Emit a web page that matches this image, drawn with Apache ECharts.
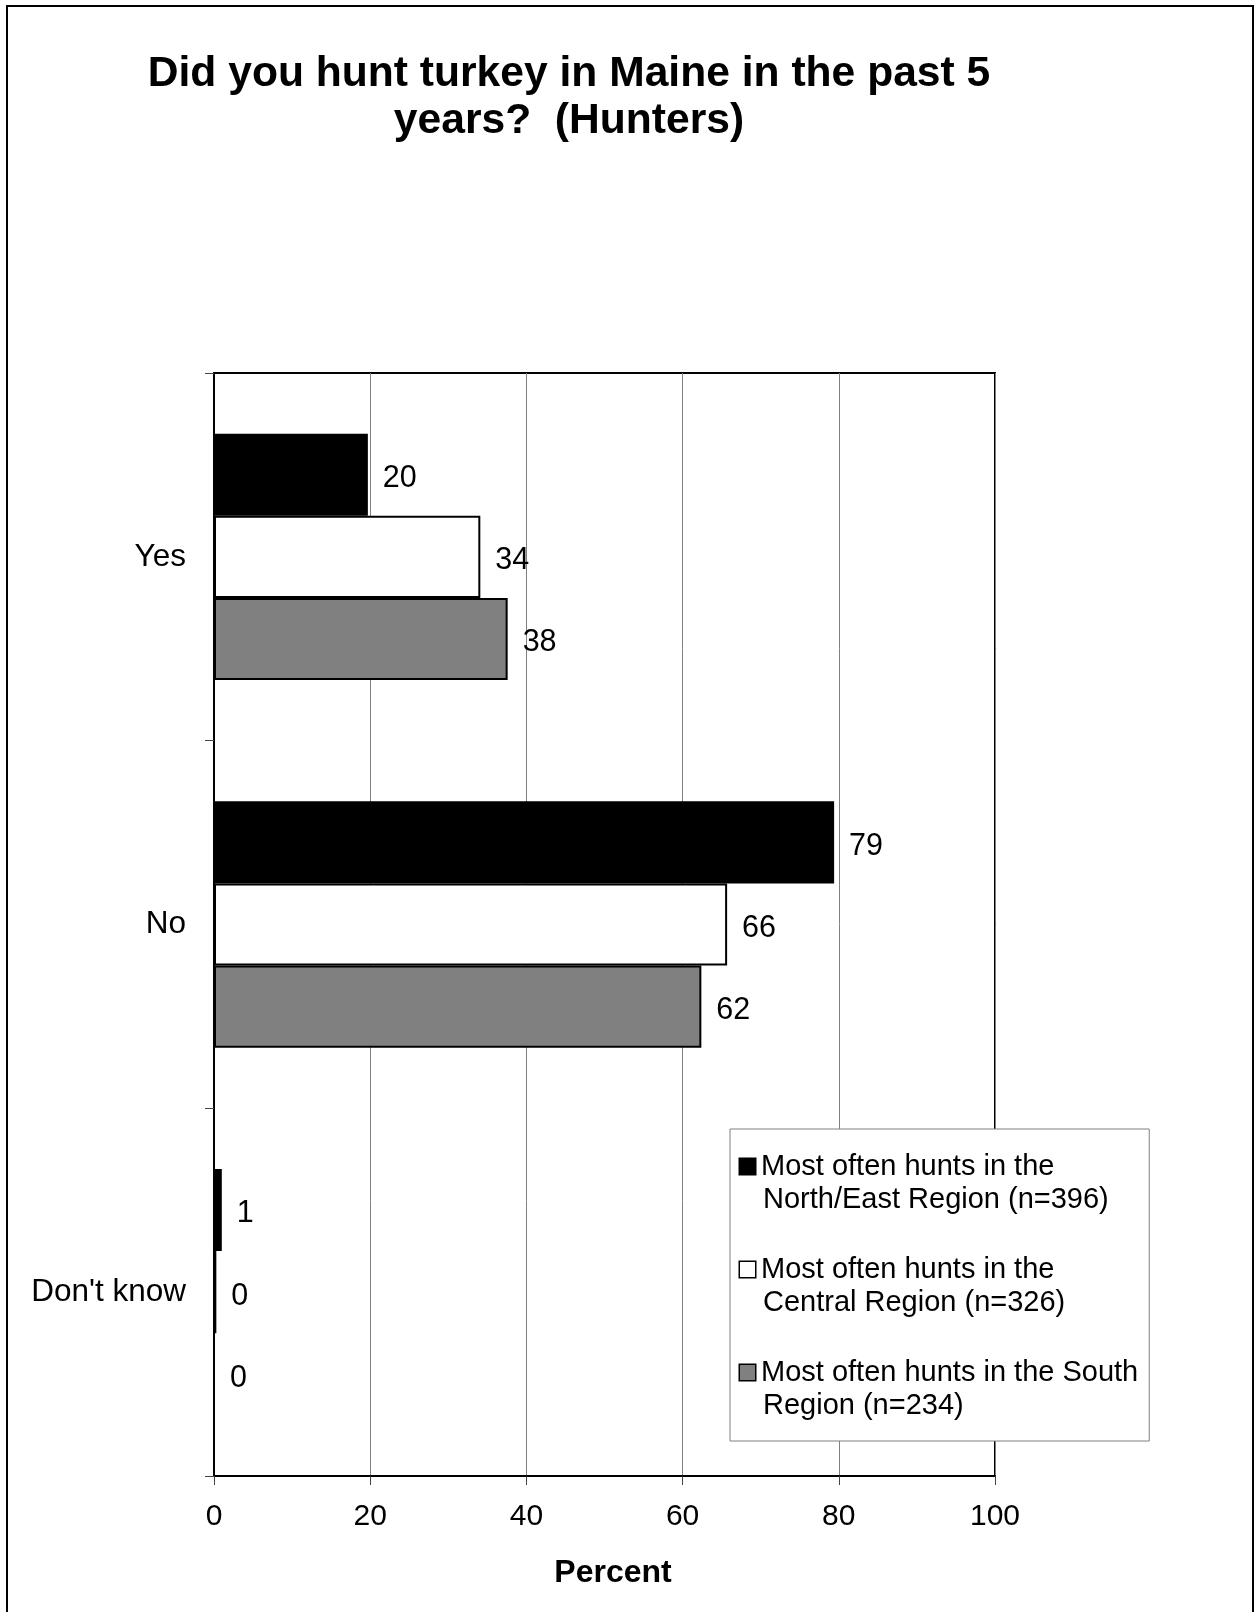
<!DOCTYPE html>
<html>
<head>
<meta charset="utf-8">
<script src="https://cdn.jsdelivr.net/npm/echarts@6/dist/echarts.min.js"></script>
<style>
html, body { margin: 0; padding: 0; background: #fff; }
#chart { width: 1255px; height: 1612px; }
</style>
</head>
<body>
<div id="chart"></div>
<script>
const categories = ["Yes", "No", "Don't know"];
const northEast = [19.7, 79.4, 1.0];
const central = [34.1, 65.7, 0.3];
const south = [37.6, 62.4, 0];
const seriesNames = [
  "Most often hunts in the\nNorth/East Region (n=396)",
  "Most often hunts in the\nCentral Region (n=326)",
  "Most often hunts in the South\nRegion (n=234)"
];
const seriesColors = ["#000000", "#ffffff", "#808080"];
const xTicks = [0, 20, 40, 60, 80, 100];

const FONT = "'Liberation Sans', Arial, sans-serif";
const chart = echarts.init(document.getElementById('chart'), null, { renderer: 'canvas' });

const seriesData = [northEast, central, south];
const series = seriesData.map((d, i) => ({
  name: seriesNames[i],
  type: 'bar',
  data: d,
  barGap: '0%',
  barCategoryGap: '33%',
  itemStyle: { color: seriesColors[i], borderColor: '#000', borderWidth: 2 },
  label: {
    show: true, position: 'right', distance: 15, offset: [0, 4],
    fontSize: 30.5, fontFamily: FONT, color: '#000',
    formatter: p => String(Math.round(p.value))
  },
  emphasis: { disabled: true },
  animation: false
}));

const rich = {
  t: { fontSize: 29, fontFamily: FONT, color: '#000', lineHeight: 33 },
  g: { width: 6, height: 14 },
  ind: { width: 23, height: 14 }
};
seriesColors.forEach((c, i) => {
  rich['s' + i] = { width: 15, height: 15, backgroundColor: c, borderColor: '#000', borderWidth: 1.5 };
});

chart.setOption({
  animation: false,
  backgroundColor: '#fff',
  title: {
    text: 'Did you hunt turkey in Maine in the past 5\nyears?  (Hunters)',
    left: 564,
    top: 46,
    textAlign: 'center',
    textStyle: { fontSize: 42.6, fontWeight: 'bold', fontFamily: FONT, color: '#000', lineHeight: 47 }
  },
  graphic: [{
    type: 'rect', z: 100, silent: true,
    shape: { x: 7, y: 6, width: 1246, height: 1700 },
    style: { fill: 'none', stroke: '#000', lineWidth: 2 }
  }],
  legend: {
    orient: 'vertical',
    left: 730, top: 1129,
    padding: [21, 11, 19, 4],
    itemWidth: 0, itemHeight: 0,
    itemGap: 37,
    backgroundColor: '#fff',
    borderColor: '#808080', borderWidth: 1,
    z: 10,
    selectedMode: false,
    data: seriesNames,
    formatter: name => {
      const i = seriesNames.indexOf(name);
      const lines = name.split('\n');
      return `{s${i}|}{g|}{t|${lines[0]}}\n{ind|}{t|${lines[1]}}`;
    },
    textStyle: { fontSize: 29, fontFamily: FONT, color: '#000', lineHeight: 33, rich: rich }
  },
  grid: {
    left: 214, top: 373, width: 781, height: 1103,
    show: true, borderColor: '#000', borderWidth: 2, containLabel: false
  },
  xAxis: {
    type: 'value', min: xTicks[0], max: xTicks[xTicks.length - 1], interval: 20,
    name: 'Percent', nameLocation: 'middle', nameGap: 81,
    nameTextStyle: { fontSize: 32, fontWeight: 'bold', fontFamily: FONT, color: '#000', padding: [0, 0, 0, 17] },
    axisLine: { show: true, lineStyle: { color: '#000', width: 2 } },
    axisTick: { show: true, length: 9, lineStyle: { color: '#444', width: 1 } },
    axisLabel: { fontSize: 30, fontFamily: FONT, color: '#000', margin: 26 },
    splitLine: { show: true, lineStyle: { color: '#808080', width: 1 } }
  },
  yAxis: {
    type: 'category', data: categories, inverse: true,
    axisLine: { show: true, lineStyle: { color: '#000', width: 2 } },
    axisTick: { show: true, length: 9, lineStyle: { color: '#444', width: 1 } },
    axisLabel: { fontSize: 31.5, fontFamily: FONT, color: '#000', margin: 28 },
    splitLine: { show: false }
  },
  series: series
});
</script>
</body>
</html>
